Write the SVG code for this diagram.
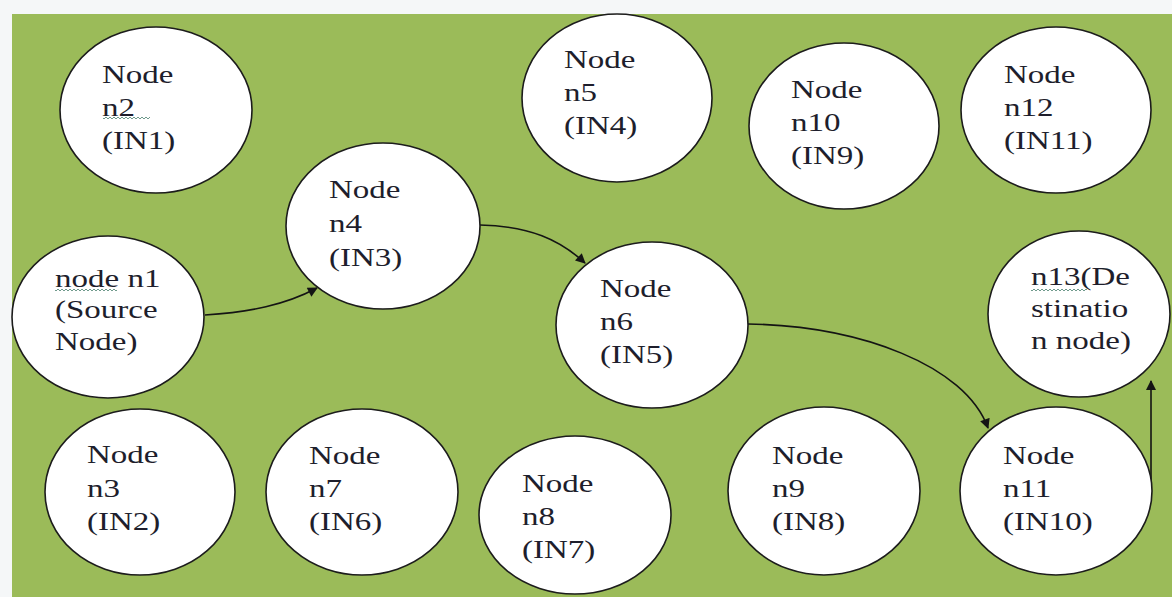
<svg xmlns="http://www.w3.org/2000/svg" width="1172" height="597" viewBox="0 0 1172 597">
<defs>
<style>
.bg{fill:#f5f7f8}
.panel{fill:#9bbb59}
.node ellipse{fill:#ffffff;stroke:#1c1c1c;stroke-width:1.6}
.t{font-family:"Liberation Serif","Times New Roman",serif;font-size:26px;fill:#1e1e2c}
.edge{fill:none;stroke:#141414;stroke-width:1.6}
.sq{fill:url(#squig)}
</style>
<marker id="arr" viewBox="0 0 10 10" refX="9" refY="5" markerWidth="11" markerHeight="10" markerUnits="userSpaceOnUse" orient="auto">
<path d="M0,0 L10,5 L0,10 z" fill="#141414"/>
</marker>
<pattern id="squig" x="0" y="0" width="4" height="4" patternUnits="userSpaceOnUse">
<path d="M0,3 L2,1 L4,3" fill="none" stroke="#5f8f7f" stroke-width="0.9"/>
</pattern>
</defs>
<rect class="bg" x="0" y="0" width="1172" height="597"/>
<rect class="panel" x="12" y="14" width="1160" height="583"/>

<g id="connectors">
<path class="edge" d="M205,315 C250,312 285,305 317,288" marker-end="url(#arr)"/>
<path class="edge" d="M480,225 C530,226 560,240 585,263" marker-end="url(#arr)"/>
<path class="edge" d="M748,324 C860,326 965,365 988,428" marker-end="url(#arr)"/>
<path class="edge" d="M1151,482 L1151,381" marker-end="url(#arr)"/>
</g>

<g id="n2" class="node">
<ellipse cx="156" cy="110" rx="96" ry="83"/>
<text class="t" transform="translate(102,83) scale(1.27,1)"><tspan x="0" y="0">Node</tspan><tspan x="0" y="33">n2</tspan><tspan x="0" y="66">(IN1)</tspan></text>
<rect class="sq" x="103" y="116" width="47" height="4"/>
</g>

<g id="n5" class="node">
<ellipse cx="617" cy="98" rx="95" ry="84"/>
<text class="t" transform="translate(564,68) scale(1.27,1)"><tspan x="0" y="0">Node</tspan><tspan x="0" y="33">n5</tspan><tspan x="0" y="66">(IN4)</tspan></text>
</g>

<g id="n10" class="node">
<ellipse cx="844" cy="126" rx="95" ry="83"/>
<text class="t" transform="translate(791,98) scale(1.27,1)"><tspan x="0" y="0">Node</tspan><tspan x="0" y="33">n10</tspan><tspan x="0" y="66">(IN9)</tspan></text>
</g>

<g id="n12" class="node">
<ellipse cx="1056" cy="110" rx="95" ry="83"/>
<text class="t" transform="translate(1004,83) scale(1.27,1)"><tspan x="0" y="0">Node</tspan><tspan x="0" y="33">n12</tspan><tspan x="0" y="66">(IN11)</tspan></text>
</g>

<g id="n4" class="node">
<ellipse cx="383" cy="226" rx="97" ry="83"/>
<text class="t" transform="translate(329,198) scale(1.27,1)"><tspan x="0" y="0">Node</tspan><tspan x="0" y="34">n4</tspan><tspan x="0" y="68">(IN3)</tspan></text>
</g>

<g id="n1" class="node">
<ellipse cx="108" cy="317" rx="96" ry="81"/>
<text class="t" transform="translate(55,287) scale(1.27,1)"><tspan x="0" y="0">node n1</tspan><tspan x="0" y="31">(Source</tspan><tspan x="0" y="63">Node)</tspan></text>
<rect class="sq" x="55" y="289" width="62" height="4"/>
</g>

<g id="n6" class="node">
<ellipse cx="652" cy="325" rx="96" ry="83"/>
<text class="t" transform="translate(600,297) scale(1.27,1)"><tspan x="0" y="0">Node</tspan><tspan x="0" y="33">n6</tspan><tspan x="0" y="66">(IN5)</tspan></text>
</g>

<g id="n13" class="node">
<ellipse cx="1079" cy="314" rx="91" ry="83"/>
<text class="t" transform="translate(1031,285) scale(1.27,1)"><tspan x="0" y="0">n13(De</tspan><tspan x="0" y="32">stinatio</tspan><tspan x="0" y="64">n node)</tspan></text>
<rect class="sq" x="1031" y="288" width="56" height="4"/>
</g>

<g id="n3" class="node">
<ellipse cx="140" cy="492" rx="95" ry="83"/>
<text class="t" transform="translate(87,463) scale(1.27,1)"><tspan x="0" y="0">Node</tspan><tspan x="0" y="34">n3</tspan><tspan x="0" y="67">(IN2)</tspan></text>
</g>

<g id="n7" class="node">
<ellipse cx="362" cy="492" rx="96" ry="83"/>
<text class="t" transform="translate(309,464) scale(1.27,1)"><tspan x="0" y="0">Node</tspan><tspan x="0" y="33">n7</tspan><tspan x="0" y="66">(IN6)</tspan></text>
</g>

<g id="n8" class="node">
<ellipse cx="575" cy="515" rx="96" ry="79"/>
<text class="t" transform="translate(522,492) scale(1.27,1)"><tspan x="0" y="0">Node</tspan><tspan x="0" y="33">n8</tspan><tspan x="0" y="66">(IN7)</tspan></text>
</g>

<g id="n9" class="node">
<ellipse cx="824" cy="491" rx="96" ry="84"/>
<text class="t" transform="translate(772,464) scale(1.27,1)"><tspan x="0" y="0">Node</tspan><tspan x="0" y="33">n9</tspan><tspan x="0" y="66">(IN8)</tspan></text>
</g>

<g id="n11" class="node">
<ellipse cx="1056" cy="491" rx="96" ry="84"/>
<text class="t" transform="translate(1003,464) scale(1.27,1)"><tspan x="0" y="0">Node</tspan><tspan x="0" y="33">n11</tspan><tspan x="0" y="66">(IN10)</tspan></text>
</g>
</svg>
